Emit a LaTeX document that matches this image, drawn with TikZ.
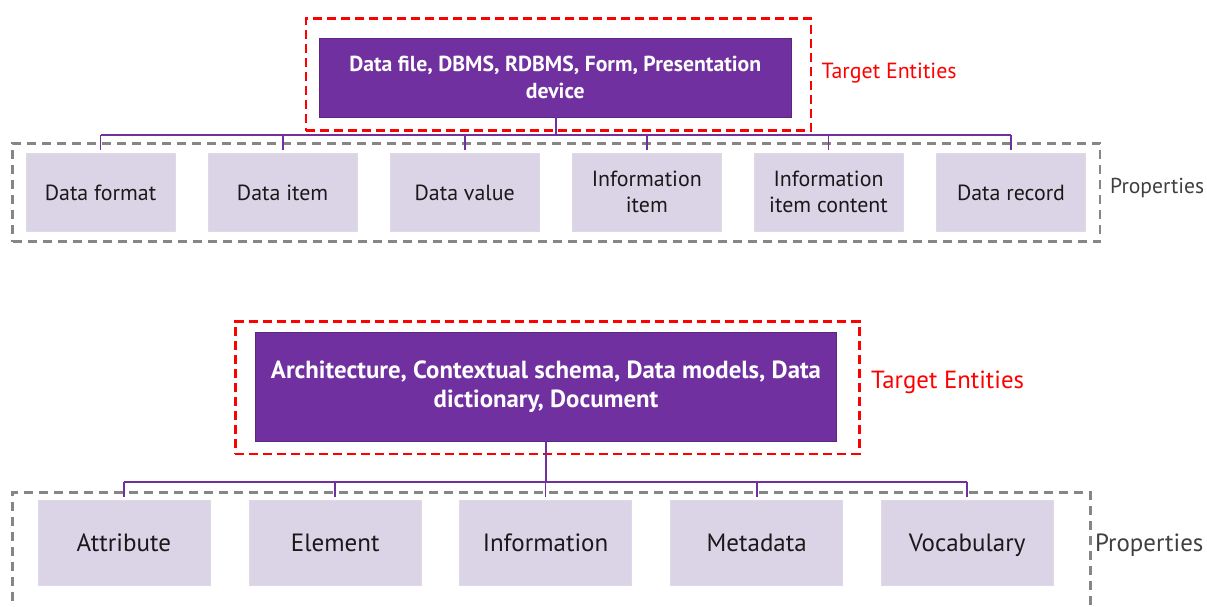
\documentclass[tikz,border=0pt]{standalone}
\usepackage{fontspec}
\setmainfont{PT Sans}
\begin{document}
\begin{tikzpicture}[x=1pt,y=-1pt,
  entity/.style={fill=entpurple, draw=entpurple!80!black, line width=0.6pt, text=white,
    font=\bfseries\fontsize{21.7}{27.6}\selectfont, align=center, inner sep=0pt},
  prop/.style={fill=proplav, draw=proplav!90!white, line width=0.5pt, text=black!90,
    inner sep=0pt, minimum width=149, minimum height=78,
    text height=18pt, text depth=2pt,
    font=\fontsize{21.9}{26.5}\selectfont},
  proptwo/.style={prop, text height=, text depth=, align=center},
  propb/.style={prop, minimum width=172, minimum height=84.6, text height=20pt, text depth=2.6pt,
    font=\fontsize{25}{29}\selectfont},
  targetframe/.style={draw=red, dashed, dash pattern=on 9pt off 5pt, line width=2.6pt, inner sep=0pt},
  propframe/.style={draw=gray!95, dash pattern=on 9pt off 6pt, line width=2.6pt, inner sep=0pt},
  link/.style={draw=entpurple, line width=1.8pt},
  tag/.style={anchor=west, inner sep=0pt},
]
\definecolor{entpurple}{HTML}{7030A0}
\definecolor{proplav}{HTML}{DAD4E6}
\useasboundingbox (0,0) rectangle (1207,606);
\clip (0,0) rectangle (1207,606);

% ---------- upper group ----------
\node[targetframe, minimum width=505, minimum height=112.4] (tf1) at (558.5,74.5) {};
\node[entity, minimum width=471.5, minimum height=79] (e1) at (555.25,77.5)
  {Data file, DBMS, RDBMS, Form, Presentation\\device};
\node[tag, text=red, font=\fontsize{21.9}{26}\selectfont] (t1) at (821.5,72.7) {Target Entities};

\node[propframe, minimum width=1087.4, minimum height=98.4] (pf1) at (556.3,192.5) {};
\node[tag, text=black!75, font=\fontsize{21.6}{26}\selectfont] (pl1) at (1110,188) {Properties};

\node[prop] (a1) at (100.5,192) {Data format};
\node[prop] (a2) at (282.6,192) {Data item};
\node[prop] (a3) at (464.7,192) {Data value};
\node[proptwo] (a4) at (646.8,192) {Information\\item};
\node[proptwo] (a5) at (828.5,192) {Information\\item content};
\node[prop] (a6) at (1011,192) {Data record};

\coordinate (j1) at (555.7,135);
\draw[link] (e1.south -| j1) -- (j1);
\draw[link] (a1.north |- j1) -- (a6.north |- j1);
\foreach \n in {a1,a2,a3,a4,a5,a6}
  \draw[link, shorten >=2.5pt] (\n.north |- j1) -- (\n.north);

% ---------- lower group ----------
\node[targetframe, minimum width=624, minimum height=132.3] (tf2) at (547.4,387.9) {};
\node[entity, minimum width=581, minimum height=108.3, font=\bfseries\fontsize{24.8}{28.7}\selectfont]
  (e2) at (546,386.9) {Architecture, Contextual schema, Data models, Data\\dictionary, Document};
\node[tag, text=red, font=\fontsize{24.8}{28}\selectfont] (t2) at (871,382.7) {Target Entities};

\node[propframe, minimum width=1077.9, minimum height=160] (pf2) at (551.55,572.3) {};
\node[tag, text=black!75, font=\fontsize{24.9}{28}\selectfont] (pl2) at (1094.8,545) {Properties};

\node[propb] (b1) at (123.8,543) {Attribute};
\node[propb] (b2) at (335.2,543) {Element};
\node[propb] (b3) at (545.5,543) {Information};
\node[propb] (b4) at (756.7,543) {Metadata};
\node[propb] (b5) at (967.2,543) {Vocabulary};

\coordinate (j2) at (546,481.7);
\draw[link] (e2.south -| j2) -- (j2);
\draw[link] (b1.north |- j2) -- (b5.north |- j2);
\foreach \n in {b1,b2,b3,b4,b5}
  \draw[link, shorten >=3pt] (\n.north |- j2) -- (\n.north);
\end{tikzpicture}
\end{document}
